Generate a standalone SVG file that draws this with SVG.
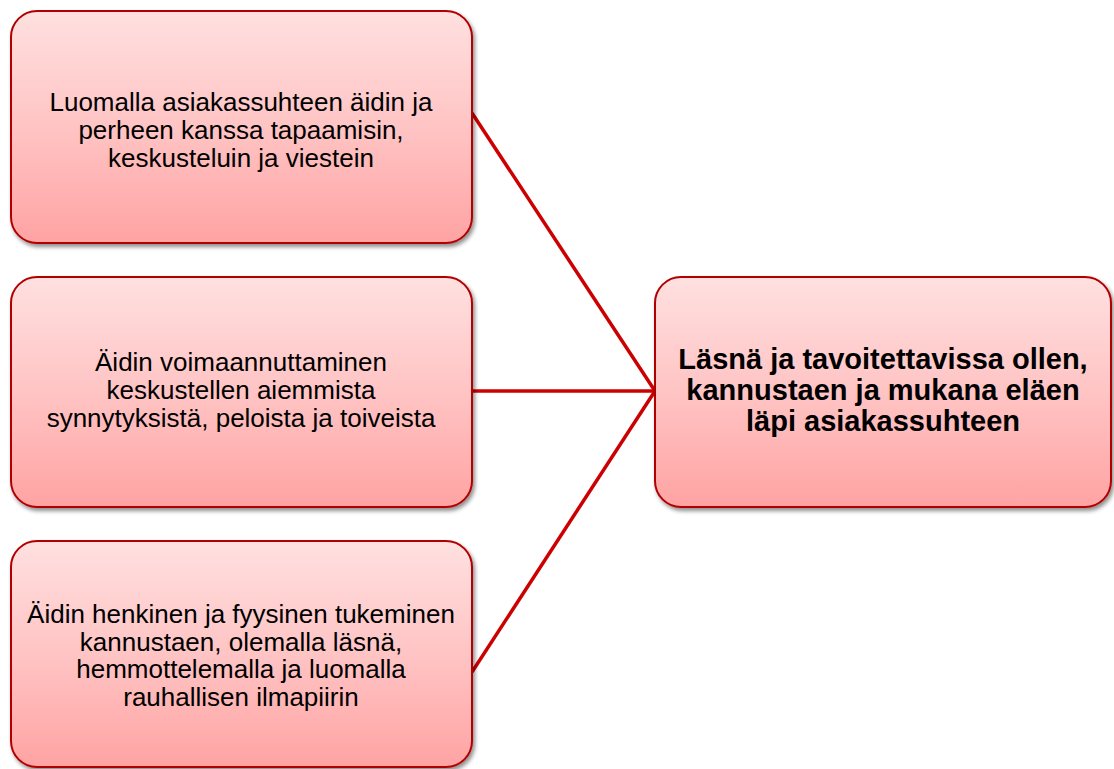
<svg xmlns="http://www.w3.org/2000/svg" width="1114" height="769" viewBox="0 0 1114 769">
<defs>
<linearGradient id="g" x1="0" y1="0" x2="0" y2="1">
<stop offset="0" stop-color="#FFE0E0"/>
<stop offset="0.5" stop-color="#FFC4C4"/>
<stop offset="1" stop-color="#FFA3A3"/>
</linearGradient>
<filter id="sh" x="-5%" y="-5%" width="112%" height="115%">
<feGaussianBlur in="SourceAlpha" stdDeviation="2"/>
<feOffset dx="2" dy="3" result="b"/>
<feComponentTransfer><feFuncA type="linear" slope="0.45"/></feComponentTransfer>
<feMerge><feMergeNode/><feMergeNode in="SourceGraphic"/></feMerge>
</filter>
</defs>
<style>
.box{fill:url(#g);stroke:#B00000;stroke-width:2;filter:url(#sh)}
.t{font-family:"Liberation Sans",Arial,sans-serif;font-size:26px;fill:#000;text-anchor:middle}
.tb{font-family:"Liberation Sans",Arial,sans-serif;font-size:29px;font-weight:bold;fill:#000;text-anchor:middle}
.c{stroke:#CC0000;stroke-width:3.5;fill:none}
</style>
<g id="connectors">
<line class="c" x1="472" y1="113" x2="655" y2="391"/>
<line class="c" x1="472" y1="391" x2="655" y2="391"/>
<line class="c" x1="472" y1="672" x2="655" y2="391"/>
</g>
<g id="node1">
<rect class="box" x="11" y="11" width="461" height="232" rx="26"/>
<text class="t" x="241" y="111">Luomalla asiakassuhteen äidin ja</text>
<text class="t" x="241" y="139">perheen kanssa tapaamisin,</text>
<text class="t" x="241" y="167">keskusteluin ja viestein</text>
</g>
<g id="node2">
<rect class="box" x="11" y="277" width="461" height="230" rx="26"/>
<text class="t" x="241" y="371">Äidin voimaannuttaminen</text>
<text class="t" x="241" y="399">keskustellen aiemmista</text>
<text class="t" x="241" y="427">synnytyksistä, peloista ja toiveista</text>
</g>
<g id="node3">
<rect class="box" x="11" y="541" width="461" height="226" rx="26"/>
<text class="t" x="241" y="623">Äidin henkinen ja fyysinen tukeminen</text>
<text class="t" x="241" y="651">kannustaen, olemalla läsnä,</text>
<text class="t" x="241" y="678">hemmottelemalla ja luomalla</text>
<text class="t" x="241" y="706">rauhallisen ilmapiirin</text>
</g>
<g id="node4">
<rect class="box" x="655" y="277" width="456" height="230" rx="26"/>
<text class="tb" x="883" y="369">Läsnä ja tavoitettavissa ollen,</text>
<text class="tb" x="883" y="400">kannustaen ja mukana eläen</text>
<text class="tb" x="883" y="431">läpi asiakassuhteen</text>
</g>
</svg>
